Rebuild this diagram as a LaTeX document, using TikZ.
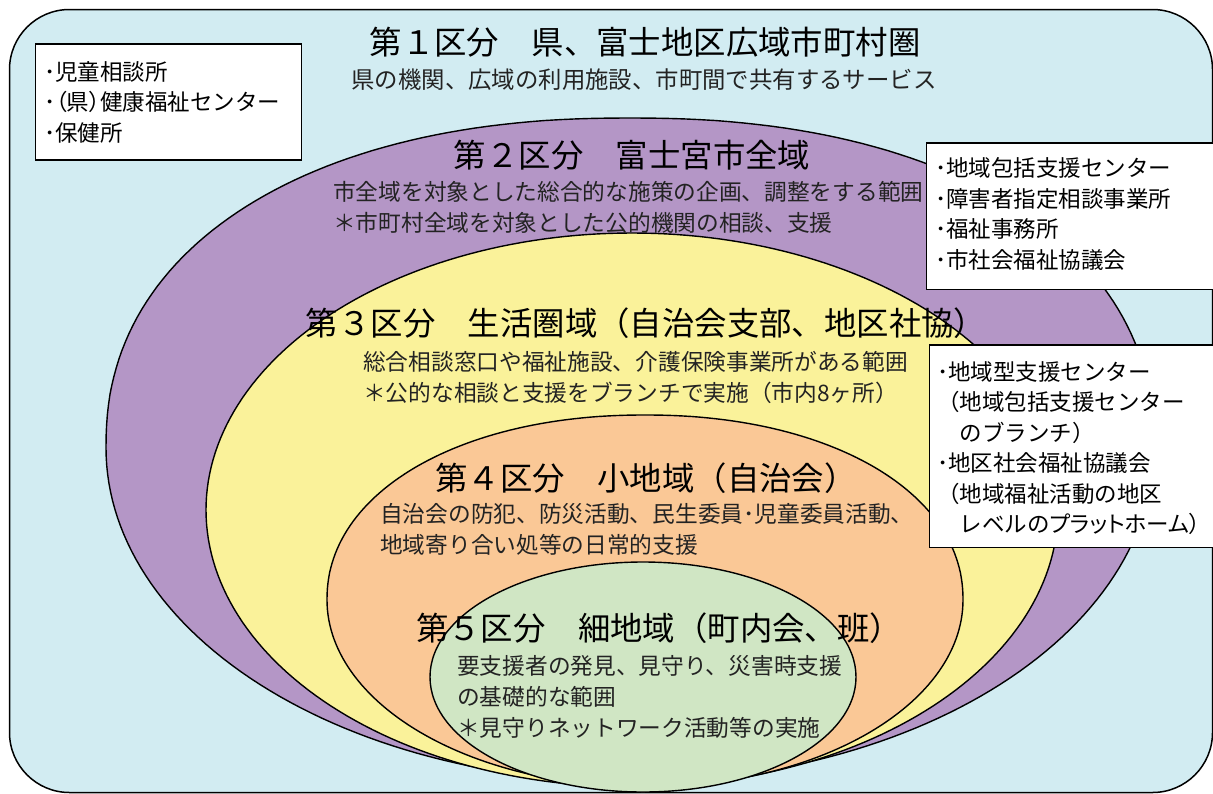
\documentclass[tikz,border=0pt]{standalone}
\usepackage{fontspec}
\newfontfamily\jp{Noto Sans CJK JP}
\definecolor{bgblue}{RGB}{210,236,242}
\definecolor{zpurple}{RGB}{180,150,198}
\definecolor{zyellow}{RGB}{250,242,154}
\definecolor{zorange}{RGB}{250,200,150}
\definecolor{zgreen}{RGB}{208,230,196}
\definecolor{subtext}{RGB}{35,35,35}
\newcommand\palt[1]{{\addfontfeature{RawFeature=+palt}#1}}
% egg-shaped zone: fill, cx, cy, a, b top, b bottom, exponent (2/n) for the top half
\newcommand\eggzone[7]{%
  \path[zone, fill=#1]
    plot[domain=0:180, samples=121, variable=\t]
      ({#2+#4*sign(cos(\t))*(abs(cos(\t))+0.00001)^#7}, {#3-#5*(abs(sin(\t))+0.00001)^#7})
    -- plot[domain=180:360, samples=121, variable=\t]
      ({#2+#4*cos(\t)}, {#3-#6*sin(\t)}) -- cycle;}
\tikzset{
  zone/.style={draw=black, line width=1.4pt, line join=round},
  listbox/.style={draw=black, fill=white, line width=1.4pt},
  ttl/.style={inner sep=0pt, font=\jp\fontsize{32.4}{38}\selectfont, text=black},
  sub/.style={inner sep=0pt, font=\jp\fontsize{22.7}{31}\selectfont, text=subtext, align=left},
  lst/.style={inner sep=0pt, font=\jp\fontsize{22.5}{30.5}\selectfont, text=black, align=left},
}
\begin{document}
\begin{tikzpicture}[x=1pt,y=-1pt]
\useasboundingbox (0,0) rectangle (1213,793);
% outer area
\draw[fill=bgblue, line width=1.5pt, rounded corners=60pt] (9.5,9.5) rectangle (1212.5,792.5);
% zones
\eggzone{zpurple}{630}{448}{524}{330}{334}{0.9}
\eggzone{zyellow}{632}{510}{426}{277}{277}{1}
\eggzone{zorange}{645}{600}{318}{185}{187}{0.95}
\path[zone, fill=zgreen] (643,677) ellipse [x radius=213pt, y radius=115pt];
% boxes
\draw[listbox] (35.5,44) rectangle (301.5,160);
\draw[listbox] (926.5,143) rectangle (1216,289.5);
\draw[listbox] (929.5,345) rectangle (1216,547.5);
% titles
\node[ttl] (t1) at (645,42) {第１区分　県、富士地区広域市町村圏};
\node[sub, font=\jp\fontsize{23.4}{31}\selectfont] (s1) at (644,80) {県の機関、広域の利用施設、市町間で共有するサービス};
\node[ttl] (t2) at (632,155) {第２区分　富士宮市全域};
\node[sub, anchor=west] (s2) at (333,207.5) {市全域を対象とした総合的な施策の企画、調整をする範囲\\＊市町村全域を対象とした公的機関の相談、支援};
\node[ttl] (t3) at (646,323) {第３区分　生活圏域（自治会支部、地区社協）};
\node[sub, anchor=west] (s3) at (363,377.5) {総合相談窓口や福祉施設、介護保険事業所がある範囲\\＊公的な相談と支援をブランチで実施（市内8ヶ所）};
\node[ttl] (t4) at (646,478) {第４区分　小地域（自治会）};
\node[sub, anchor=west] (s4) at (380,529.5) {自治会の防犯、防災活動、民生委員･児童委員活動、\\地域寄り合い処等の日常的支援};
\node[ttl] (t5) at (659,628) {第５区分　細地域（町内会、班）};
\node[sub, anchor=west] (s5) at (457,697) {要支援者の発見、見守り、災害時支援\\の基礎的な範囲\\＊見守りネットワーク活動等の実施};
% list texts
\node[lst, anchor=west] (l1) at (44,102) {･児童相談所\\･\palt{（県）}健康福祉センター\\･保健所};
\node[lst, anchor=west] (l2) at (935,214) {･地域包括支援センター\\･障害者指定相談事業所\\･福祉事務所\\･市社会福祉協議会};
\node[lst, anchor=west] (l3) at (937,448) {･地域型支援センター\\（地域包括支援センター\\　のブランチ）\\･地区社会福祉協議会\\（地域福祉活動の地区\\　レベルの\palt{プラットホーム）}};
\end{tikzpicture}
\end{document}
